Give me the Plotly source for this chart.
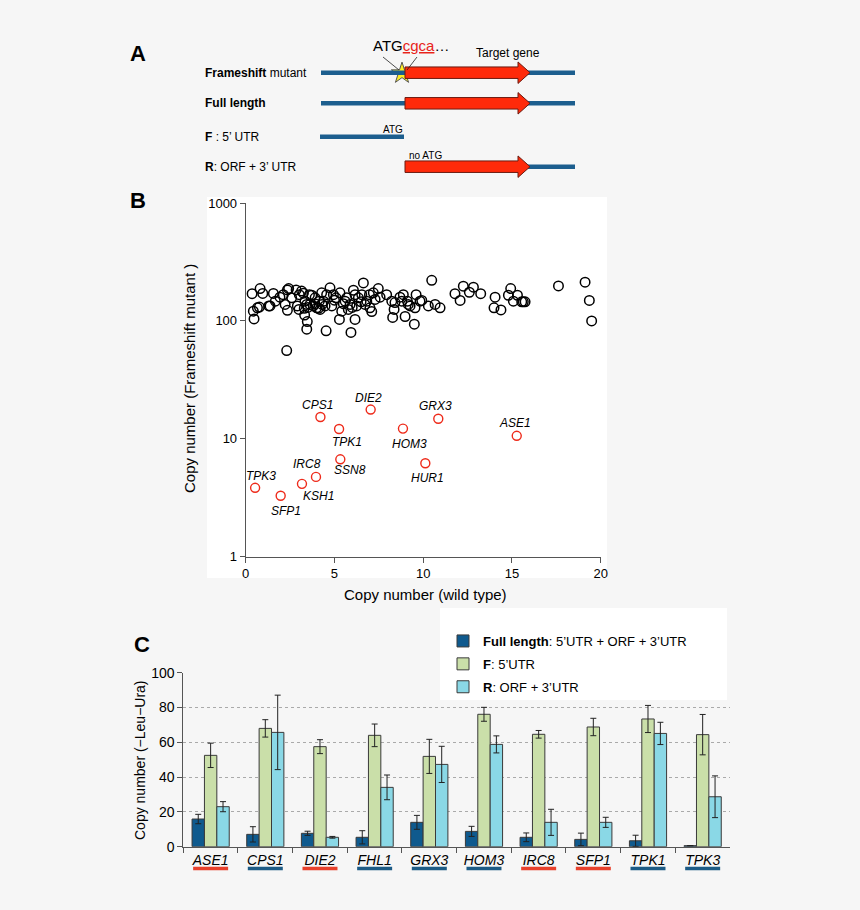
import math
import plotly.graph_objects as go

W, H = 860, 910
FONT = "Liberation Sans, Arial, sans-serif"
BG = "#f6f6f6"

# ---------------- Panel B data ----------------
wt_copy = [0.36, 0.43, 0.47, 0.66, 0.77, 0.81, 0.96, 1.30, 1.37, 1.56, 1.67, 1.93, 2.12, 2.22, 2.35,
           2.35, 2.42, 2.59, 2.84, 2.91, 3.02, 3.15, 3.25, 3.32, 3.34, 3.44, 3.47, 3.44, 3.59, 3.62,
           3.72, 3.81, 3.91, 4.00, 4.15, 4.19, 4.28, 4.38, 4.47, 4.53, 4.56, 4.75, 4.85, 4.94, 5.09,
           5.31, 5.28, 5.41, 5.60, 5.69, 5.78, 5.88, 5.93, 6.07, 6.16, 6.16, 6.25, 6.35, 6.54, 6.63,
           6.72, 6.82, 6.97, 7.00, 7.10, 7.19, 7.29, 7.47, 7.57, 7.94, 8.23, 8.28, 8.36, 8.41, 8.69,
           8.79, 8.88, 8.98, 9.11, 9.16, 9.26, 9.50, 9.54, 9.60, 9.82, 9.92, 10.29, 10.48, 10.67, 10.95,
           11.79, 12.08, 12.26, 12.60, 12.83, 13.24, 13.99, 14.05, 14.38, 14.80, 14.93, 15.08, 15.31,
           15.55, 15.64, 15.74, 17.62, 19.12, 19.36, 19.49, 2.31,
           3.5, 3.9, 4.1, 3.3, 4.3, 5.5, 5.0, 6.0, 6.5, 3.0]
fs_copy = [170, 121, 104, 129, 131, 188, 171, 134, 134, 171, 147, 159, 167, 138, 123,
           183, 188, 157, 183, 134, 167, 179, 172, 112, 147, 138, 98.7, 85.1, 167, 138,
           165, 134, 157, 129, 147, 125, 173, 147, 134, 82.4, 167, 191, 134, 167, 157,
           173, 103, 121, 147, 157, 125, 138, 79.8, 182, 103, 167, 134, 157, 167, 210,
           138, 147, 167, 129, 120, 173, 152, 188, 159, 167, 147, 107, 125, 143, 159,
           147, 167, 109, 147, 138, 134, 93.8, 129, 167, 147, 149, 134, 221, 138, 129,
           170, 149, 197, 175, 193, 170, 129, 159, 124, 165, 188, 147, 165,
           145, 145, 145, 198, 213, 149, 100, 56,
           130, 140, 128, 128, 138, 140, 150, 130, 145, 125]

hit_genes = ["TPK3", "SFP1", "KSH1", "IRC8", "SSN8", "TPK1", "CPS1", "DIE2", "HOM3", "HUR1", "GRX3", "ASE1"]
hit_wt = [0.53, 1.97, 3.17, 3.96, 5.33, 5.26, 4.21, 7.04, 8.86, 10.12, 10.85, 15.27]
hit_fs = [3.84, 3.29, 4.15, 4.75, 6.70, 12.1, 15.3, 17.7, 12.2, 6.20, 14.8, 10.6]
# label offsets (pixels) for each hit label
hit_dx = [6, 5, 17, -9, 10, 8, -3, -2, 7, 2, -3, -2]
hit_dy = [12, -15, -12, 13, -11, -13, 12, 12, -15, -15, 13, 13]

# ---------------- Panel C data ----------------
genes_c = ["ASE1", "CPS1", "DIE2", "FHL1", "GRX3", "HOM3", "IRC8", "SFP1", "TPK1", "TPK3"]
gene_class_color = ["#e8412c", "#1d5b85", "#e8412c", "#1d5b85", "#1d5b85",
                    "#1d5b85", "#e8412c", "#e8412c", "#1d5b85", "#1d5b85"]
full_len = [15.9, 7.1, 7.7, 5.4, 14.0, 8.8, 5.4, 4.2, 3.4, 0.6]
full_err = [2.7, 4.4, 1.2, 3.8, 4.0, 2.9, 2.5, 3.6, 3.2, 0]
f_utr = [52.5, 68.0, 57.5, 64.0, 51.9, 76.1, 64.6, 68.8, 73.4, 64.4]
f_err = [7.0, 5.0, 4.0, 6.5, 9.8, 4.0, 2.2, 5.0, 7.8, 11.6]
r_orf = [23.0, 65.7, 5.4, 34.1, 47.3, 58.8, 14.0, 14.0, 65.1, 28.7]
r_err = [2.9, 21.4, 0.5, 7.1, 10.4, 4.9, 7.5, 2.9, 6.4, 12.0]

series_names = ["<b>Full length</b>: 5\u2019UTR + ORF + 3\u2019UTR", "<b>F</b>: 5\u2019UTR", "<b>R</b>: ORF + 3\u2019UTR"]
series_colors = ["#0f5a8e", "#cadfa9", "#8ad8e6"]


def pxx(x):
    return x / W


def pyy(y):
    return 1 - y / H


fig = go.Figure()

fig.add_trace(go.Scatter(x=wt_copy, y=fs_copy, mode="markers", xaxis="x", yaxis="y",
                         marker=dict(symbol="circle-open", size=9.5, color="black", line=dict(width=1.5)),
                         showlegend=False, hoverinfo="skip"))
fig.add_trace(go.Scatter(x=hit_wt, y=hit_fs, mode="markers", xaxis="x", yaxis="y",
                         marker=dict(symbol="circle-open", size=9, color="#ee2a1a", line=dict(width=1.4)),
                         showlegend=False, hoverinfo="skip"))

for name, vals, errs, col, grp in zip(series_names, [full_len, f_utr, r_orf],
                                      [full_err, f_err, r_err], series_colors, ["a", "b", "c"]):
    fig.add_trace(go.Bar(x=genes_c, y=vals, name=name, xaxis="x2", yaxis="y2",
                         legendgroup=grp,
                         marker=dict(color=col, line=dict(color="#3a3a3a", width=1)),
                         error_y=dict(type="data", array=errs, color="#222", thickness=1, width=3)))

fig.add_trace(go.Scatter(x=[402], y=[73.3], mode="markers", xaxis="x3", yaxis="y3",
                         marker=dict(symbol="star", size=16, color="#ffee22", line=dict(color="#555", width=1)),
                         showlegend=False, hoverinfo="skip"))

shapes = []
annotations = []

shapes.append(dict(type="rect", xref="paper", yref="paper", x0=pxx(207), x1=pxx(607), y0=pyy(578), y1=pyy(197),
                   fillcolor="white", line=dict(width=0), layer="below"))
shapes.append(dict(type="rect", xref="paper", yref="paper", x0=pxx(440), x1=pxx(727), y0=pyy(700), y1=pyy(608),
                   fillcolor="white", line=dict(width=0), layer="above"))

BLUE = "#1c5e8e"
RED = "#ff2a0a"


def line(x0, x1, y):
    shapes.append(dict(type="line", xref="x3", yref="y3", x0=x0, x1=x1, y0=y, y1=y,
                       line=dict(color=BLUE, width=4.5)))


def arrow(x0, xh, tip, y, h1=11.5, h2=21.5):
    p = (f"M{x0},{y - h1 / 2} L{xh},{y - h1 / 2} L{xh},{y - h2 / 2} L{tip},{y} "
         f"L{xh},{y + h2 / 2} L{xh},{y + h1 / 2} L{x0},{y + h1 / 2} Z")
    shapes.append(dict(type="path", xref="x3", yref="y3", path=p, fillcolor=RED,
                       line=dict(color="#6a1a10", width=1)))


line(321, 575, 72.7)
arrow(405, 518, 530, 72.7)
line(321, 575, 103.3)
arrow(405, 518, 530, 103.3)
line(320, 404, 136.7)
line(528, 575, 166.7)
arrow(405, 518, 530, 166.7)
shapes.append(dict(type="line", xref="x3", yref="y3", x0=383, y0=57, x1=399, y1=70, line=dict(color="#222", width=0.8)))
shapes.append(dict(type="line", xref="x3", yref="y3", x0=417, y0=57, x1=407, y1=70, line=dict(color="#222", width=0.8)))


def ann(x, y, text, size=12, xanchor="left", **kw):
    annotations.append(dict(xref="x3", yref="y3", x=x, y=y, text=text, showarrow=False,
                            xanchor=xanchor, yanchor="middle", font=dict(family=FONT, size=size, color="black"), **kw))


ann(138, 53, "<b>A</b>", size=22, xanchor="center")
ann(138, 200, "<b>B</b>", size=22, xanchor="center")
ann(142, 644, "<b>C</b>", size=22, xanchor="center")
ann(203, 72.7, "<b>Frameshift</b> mutant")
ann(203, 103.3, "<b>Full length</b>")
ann(203, 136.7, "<b>F</b> : 5\u2019 UTR")
ann(203, 166.7, "<b>R</b>: ORF + 3\u2019 UTR")
ann(371, 45, "ATG<span style='color:#e8231a;text-decoration:underline'>cgca</span>\u2026", size=15)
ann(474, 53, "Target gene", size=12)
ann(381, 129, "ATG", size=10)
ann(407, 155, "no ATG", size=10)

annotations.append(dict(xref="paper", yref="paper", x=pxx(189), y=pyy(379), text="Copy number (Frameshift mutant )",
                        textangle=-90, showarrow=False, xanchor="center", yanchor="middle",
                        font=dict(family=FONT, size=15, color="black")))
annotations.append(dict(xref="paper", yref="paper", x=pxx(425), y=pyy(594), text="Copy number (wild type)",
                        showarrow=False, xanchor="center", yanchor="middle",
                        font=dict(family=FONT, size=15, color="black")))
for g, xv, yv, dx, dy in zip(hit_genes, hit_wt, hit_fs, hit_dx, hit_dy):
    annotations.append(dict(xref="x", yref="y", x=xv, y=math.log10(yv), text=f"<i>{g}</i>",
                            showarrow=False, xshift=dx, yshift=dy, xanchor="center", yanchor="middle",
                            font=dict(family=FONT, size=12, color="black")))

annotations.append(dict(xref="paper", yref="paper", x=pxx(140), y=pyy(760), text="Copy number (\u2212Leu\u2212Ura)",
                        textangle=-90, showarrow=False, xanchor="center", yanchor="middle",
                        font=dict(family=FONT, size=14, color="black")))
for i, c in enumerate(gene_class_color):
    shapes.append(dict(type="line", xref="x2", yref="paper", x0=i - 0.32, x1=i + 0.32,
                       y0=pyy(868.5), y1=pyy(868.5), line=dict(color=c, width=3.5)))

fig.update_layout(
    width=W, height=H,
    margin=dict(l=0, r=0, t=0, b=0, autoexpand=False),
    paper_bgcolor=BG, plot_bgcolor="rgba(0,0,0,0)",
    font=dict(family=FONT, size=13, color="black"),
    barmode="group", bargap=0.32, bargroupgap=0,
    shapes=shapes, annotations=annotations,
    showlegend=True,
    legend=dict(x=pxx(443), y=pyy(626), xanchor="left", yanchor="top", bgcolor="rgba(0,0,0,0)",
                font=dict(family=FONT, size=13, color="black"), traceorder="grouped", tracegroupgap=3,
                itemwidth=30),
    xaxis=dict(domain=[pxx(245.7), pxx(600.7)], anchor="y", range=[0, 20], tickvals=[0, 5, 10, 15, 20],
               showgrid=False, zeroline=False, showline=True, linecolor="#555", linewidth=1, automargin=False,
               ticks="outside", ticklen=5, tickcolor="#555", tickfont=dict(size=13)),
    yaxis=dict(domain=[pyy(556.7), pyy(203)], anchor="x", type="log", range=[0, 3],
               tickvals=[1, 10, 100, 1000], ticktext=["1", "10", "100", "1000"], automargin=False,
               showgrid=False, zeroline=False, showline=True, linecolor="#555", linewidth=1,
               ticks="outside", ticklen=5, tickcolor="#555", tickfont=dict(size=13)),
    xaxis2=dict(domain=[pxx(183.3), pxx(730)], anchor="y2", type="category", tickson="boundaries",
                showgrid=False, zeroline=False, showline=True, linecolor="#555", linewidth=1, automargin=False,
                ticks="outside", ticklen=5, tickcolor="#555",
                tickfont=dict(size=14, style="italic")),
    yaxis2=dict(domain=[pyy(846.7), pyy(672.7)], anchor="x2", range=[0, 100], tickvals=[0, 20, 40, 60, 80, 100],
                showgrid=True, gridcolor="#aaaaaa", griddash="dot", gridwidth=1, zeroline=False, automargin=False,
                showline=True, linecolor="#555", linewidth=1, ticks="outside", ticklen=5, tickcolor="#555",
                tickfont=dict(size=14)),
    xaxis3=dict(domain=[0, 1], anchor="y3", range=[0, W], visible=False, fixedrange=True, automargin=False),
    yaxis3=dict(domain=[0, 1], anchor="x3", range=[H, 0], visible=False, fixedrange=True, automargin=False),
)

fig.write_html("out.html")
